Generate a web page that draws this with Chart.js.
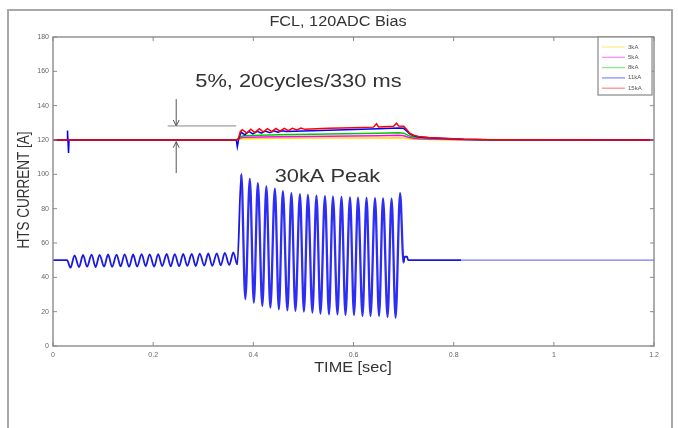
<!DOCTYPE html>
<html><head><meta charset="utf-8">
<script src="https://cdn.jsdelivr.net/npm/chart.js@4/dist/chart.umd.min.js"></script>
<style>html,body{margin:0;padding:0;background:#fff;overflow:hidden}#c{position:absolute;left:0;top:0}</style>
</head><body>
<canvas id="c" width="678" height="428"></canvas>
<script>
// ---------- text ----------
const chartTitle = 'FCL, 120ADC Bias';
const xTitle = 'TIME [sec]';
const yTitle = 'HTS CURRENT [A]';
const noteBand = '5%, 20cycles/330 ms';
const notePeak = '30kA Peak';
const legendLabels = ['3kA', '5kA', '8kA', '11kA', '15kA'];

// ---------- axes ----------
const xMin = 0, xMax = 1.2, xStep = 0.2;
const yMin = 0, yMax = 180, yStep = 20;

// ---------- HTS current traces around 120 A bias ----------
const platT = [0, 0.366, 0.372, 0.38, 0.45, 0.55, 0.65, 0.69, 0.70, 0.705, 0.712, 0.72, 0.73, 0.75, 0.78, 0.82, 0.87, 1.2];
const i3kA  = [120, 120, 120.5, 120.8, 121, 121.1, 121.2, 121.3, 121.2, 121, 120.7, 120.5, 120.4, 120.3, 120.2, 120.1, 120, 120];
const i5kA  = [120, 120, 121, 121.6, 121.9, 122.2, 122.5, 122.7, 122.5, 122, 121.4, 121, 120.8, 120.6, 120.4, 120.2, 120.1, 120];
const i8kA  = [120, 120, 121.5, 122.5, 123, 123.5, 123.9, 124.2, 124, 123.3, 122.3, 121.7, 121.3, 121, 120.7, 120.3, 120.1, 120];

const t11kA = [0, 0.028, 0.029, 0.031, 0.032, 0.366, 0.368, 0.371, 0.376, 0.383, 0.391, 0.399, 0.408, 0.416, 0.424, 0.433, 0.441, 0.449, 0.458, 0.466, 0.50, 0.55, 0.60, 0.65, 0.69, 0.70, 0.705, 0.712, 0.72, 0.73, 0.75, 0.78, 0.82, 0.87, 1.2];
const i11kA = [120, 120, 125.5, 112.5, 120, 120, 116, 121, 124.5, 123, 125, 123.5, 125, 124, 125.2, 124.3, 125.3, 124.6, 125.4, 124.9, 125.3, 125.7, 126.1, 126.5, 127, 126.8, 125.5, 123.5, 122.4, 121.8, 121.3, 120.9, 120.4, 120.2, 120];

const t15kA = [0, 0.366, 0.370, 0.374, 0.378, 0.387, 0.395, 0.403, 0.412, 0.420, 0.428, 0.437, 0.445, 0.453, 0.462, 0.470, 0.478, 0.487, 0.495, 0.503, 0.55, 0.60, 0.64, 0.646, 0.650, 0.68, 0.686, 0.690, 0.70, 0.705, 0.712, 0.72, 0.73, 0.75, 0.78, 0.82, 0.87, 1.2];
const i15kA = [120, 120, 120.5, 125, 126, 124, 126.3, 124.3, 126.5, 124.6, 126.6, 124.9, 126.7, 125.2, 126.8, 125.5, 126.8, 125.8, 126.9, 126.2, 126.8, 127.2, 127.5, 129.5, 127.6, 128, 129.8, 128.2, 128, 126.5, 124, 122.8, 122, 121.4, 121, 120.5, 120.2, 120];

// ---------- line current trace (lower blue curve) ----------
const preFaultT = [0, 0.028, 0.035, 0.043, 0.052, 0.060, 0.068, 0.077, 0.085, 0.093, 0.102, 0.110, 0.118, 0.127, 0.135, 0.143, 0.152, 0.160, 0.168, 0.177, 0.185, 0.193, 0.202, 0.210, 0.218, 0.227, 0.235, 0.243, 0.252, 0.260, 0.268, 0.277, 0.285, 0.293, 0.302, 0.310, 0.318, 0.327, 0.335, 0.343, 0.352, 0.360, 0.368];
const preFaultI = [50, 50, 45.6, 52.8, 46.0, 53.0, 46.2, 53.2, 46.0, 53.1, 46.3, 53.3, 46.1, 53.2, 46.4, 53.4, 46.2, 53.3, 46.3, 53.5, 46.5, 53.4, 46.3, 53.5, 46.6, 53.6, 46.4, 53.5, 46.5, 53.7, 46.7, 53.6, 46.6, 53.8, 46.8, 53.9, 46.7, 54.0, 47.0, 54.2, 47.2, 54.5, 47.5];
const faultT = [0.376, 0.384, 0.393, 0.401, 0.409, 0.418, 0.426, 0.434, 0.443, 0.451, 0.459, 0.468, 0.476, 0.484, 0.493, 0.501, 0.509, 0.518, 0.526, 0.534, 0.543, 0.551, 0.559, 0.568, 0.576, 0.584, 0.593, 0.601, 0.609, 0.618, 0.626, 0.634, 0.643, 0.651, 0.659, 0.668, 0.676, 0.684, 0.693];
const faultI = [100.3, 27.3, 97.4, 25.3, 94.9, 23.4, 92.9, 22.4, 91.6, 21.4, 90.2, 20.8, 89.0, 20.5, 88.4, 20.1, 88.0, 19.5, 87.6, 18.9, 87.3, 18.5, 87.0, 18.5, 86.8, 18.1, 86.6, 18.1, 86.4, 17.5, 86.3, 17.5, 86.1, 17.5, 86.0, 16.9, 85.9, 16.5, 89.0];
const postFaultT = [0.700, 0.702, 0.707, 0.709, 0.815, 1.2];
const postFaultI = [48.5, 52.0, 52.0, 50.0, 50.0, 50.0];
const faultWindow = [0.370, 0.700];
const lightTailFrom = 0.815;

// ---------- annotation anchors (data coordinates) ----------
const arrowX = 0.246;
const bandTop = 128.2, bandBottom = 119;
const bandLineX = [0.229, 0.366];
const arrowTailTop = 143.8, arrowTailBottom = 100.7;
const noteBandAt = [0.49, 153.7];
const notePeakAt = [0.548, 98.6];

function pts(ts, vs) { return ts.map((t, i) => ({ x: t, y: vs[i] })); }

const seriesColors = ['rgb(255,215,0)', 'rgb(255,0,255)', 'rgb(0,200,0)', 'rgb(0,0,255)', 'rgb(255,0,0)'];
const seriesT = [platT, platT, platT, t11kA, t15kA];
const seriesI = [i3kA, i5kA, i8kA, i11kA, i15kA];

const datasets = [];
legendLabels.forEach((lab, k) => {
  datasets.push({
    label: lab, data: pts(seriesT[k], seriesI[k]),
    borderColor: seriesColors[k], borderWidth: 1.5, tension: 0,
    pointRadius: 0, order: 4 - k
  });
});
datasets.push({
  label: 'line', data: pts(preFaultT.concat(faultT, postFaultT), preFaultI.concat(faultI, postFaultI)),
  borderColor: 'rgb(25,25,225)', borderWidth: 1.8, cubicInterpolationMode: 'monotone',
  pointRadius: 0, order: 10,
  segment: {
    borderColor: c => {
      const x = c.p0.parsed.x;
      if (x >= lightTailFrom) return 'rgba(60,60,255,0.7)';
      if (x >= faultWindow[0] && x < faultWindow[1]) return 'rgb(45,45,245)';
      return undefined;
    },
    borderWidth: c => {
      const x = c.p0.parsed.x;
      if (x >= lightTailFrom) return 1.1;
      if (x >= faultWindow[0] && x < faultWindow[1]) return 2.3;
      return undefined;
    }
  }
});

function stext(ctx, txt, x, y, size, sx, color, align) {
  ctx.save();
  ctx.translate(x, y); ctx.scale(sx, 1);
  ctx.font = size + 'px "Liberation Sans", Arial, sans-serif';
  ctx.fillStyle = color; ctx.textAlign = align || 'center'; ctx.textBaseline = 'middle';
  ctx.fillText(txt, 0, 0);
  ctx.restore();
}
function arrow(ctx, x, yTail, yTip) {
  const dir = yTip > yTail ? 1 : -1;
  ctx.beginPath();
  ctx.moveTo(x, yTail); ctx.lineTo(x, yTip);
  ctx.moveTo(x - 3, yTip - dir * 6); ctx.lineTo(x, yTip); ctx.lineTo(x + 3, yTip - dir * 6);
  ctx.stroke();
}

const decor = {
  id: 'decor',
  beforeDraw(chart) {
    const ctx = chart.ctx;
    ctx.save();
    ctx.fillStyle = '#fff'; ctx.fillRect(0, 0, chart.width, chart.height);
    ctx.strokeStyle = '#a8a8a8'; ctx.lineWidth = 2;
    ctx.strokeRect(8, 10, 664, 440);
    ctx.restore();
  },
  afterDatasetsDraw(chart) {
    const ctx = chart.ctx, a = chart.chartArea;
    const xs = chart.scales.x, ys = chart.scales.y;
    ctx.save();
    // axes box
    ctx.strokeStyle = '#8a8a8a'; ctx.lineWidth = 1.4;
    ctx.strokeRect(a.left, a.top, a.right - a.left, a.bottom - a.top);
    // inward ticks on all sides
    ctx.lineWidth = 1; ctx.strokeStyle = '#8a8a8a';
    ctx.beginPath();
    xs.ticks.forEach(t => {
      const p = xs.getPixelForValue(t.value);
      ctx.moveTo(p, a.bottom); ctx.lineTo(p, a.bottom - 4);
      ctx.moveTo(p, a.top); ctx.lineTo(p, a.top + 4);
    });
    ys.ticks.forEach(t => {
      const p = ys.getPixelForValue(t.value);
      ctx.moveTo(a.left, p); ctx.lineTo(a.left + 4, p);
      ctx.moveTo(a.right, p); ctx.lineTo(a.right - 4, p);
    });
    ctx.stroke();

    // annotation arrows
    const ax = xs.getPixelForValue(arrowX);
    ctx.strokeStyle = '#555'; ctx.lineWidth = 1;
    arrow(ctx, ax, ys.getPixelForValue(arrowTailTop), ys.getPixelForValue(bandTop));
    arrow(ctx, ax, ys.getPixelForValue(arrowTailBottom), ys.getPixelForValue(bandBottom));
    ctx.strokeStyle = '#888';
    ctx.beginPath();
    const yb = ys.getPixelForValue(bandTop);
    ctx.moveTo(xs.getPixelForValue(bandLineX[0]), yb); ctx.lineTo(xs.getPixelForValue(bandLineX[1]), yb);
    ctx.stroke();

    stext(ctx, noteBand, xs.getPixelForValue(noteBandAt[0]), ys.getPixelForValue(noteBandAt[1]), 18.5, 1.18, '#333');
    stext(ctx, notePeak, xs.getPixelForValue(notePeakAt[0]), ys.getPixelForValue(notePeakAt[1]), 18.5, 1.18, '#333');

    // legend
    const lx = 598, ly = a.top, lw = 54, lh = 58;
    ctx.fillStyle = '#fff'; ctx.fillRect(lx, ly, lw, lh);
    ctx.strokeStyle = '#888'; ctx.lineWidth = 1.2; ctx.strokeRect(lx, ly, lw, lh);
    legendLabels.forEach((lab, k) => {
      const y = ly + 10 + k * 10.3;
      ctx.strokeStyle = seriesColors[k]; ctx.globalAlpha = 0.45; ctx.lineWidth = 1.3;
      ctx.beginPath(); ctx.moveTo(lx + 4, y); ctx.lineTo(lx + 27, y); ctx.stroke();
      ctx.globalAlpha = 1;
      stext(ctx, lab, lx + 30, y, 5.5, 1.1, '#555', 'left');
    });

    // titles
    stext(ctx, chartTitle, 338, 22, 14, 1.16, '#333');
    stext(ctx, xTitle, 353, 368, 14.5, 1.12, '#333');
    ctx.save();
    ctx.translate(25, 190); ctx.rotate(-Math.PI / 2); ctx.scale(1, 1.2);
    ctx.font = '13.5px "Liberation Sans", Arial, sans-serif';
    ctx.fillStyle = '#333'; ctx.textAlign = 'center'; ctx.textBaseline = 'middle';
    ctx.fillText(yTitle, 0, 0);
    ctx.restore();
    ctx.restore();
  }
};

const fmt = v => String(Number(v.toFixed(2)));

new Chart(document.getElementById('c'), {
  type: 'line',
  data: { datasets },
  options: {
    responsive: false, animation: false, devicePixelRatio: 1,
    layout: { padding: { top: 37, right: 24, left: 0, bottom: 0 } },
    plugins: { legend: { display: false }, tooltip: { enabled: false }, title: { display: false } },
    elements: { point: { radius: 0 } },
    scales: {
      x: {
        type: 'linear', min: xMin, max: xMax,
        ticks: { stepSize: xStep, font: { size: 7, family: '"Liberation Sans", Arial' }, color: '#666', padding: 5, maxRotation: 0, autoSkip: false, callback: fmt },
        grid: { display: false, drawTicks: false }, border: { display: false },
        afterFit(s) { s.height = 82; }
      },
      y: {
        type: 'linear', min: yMin, max: yMax,
        ticks: { stepSize: yStep, font: { size: 7, family: '"Liberation Sans", Arial' }, color: '#666', padding: 4, callback: fmt },
        grid: { display: false, drawTicks: false }, border: { display: false },
        afterFit(s) { s.width = 53; }
      }
    }
  },
  plugins: [decor]
});
</script>
</body></html>
